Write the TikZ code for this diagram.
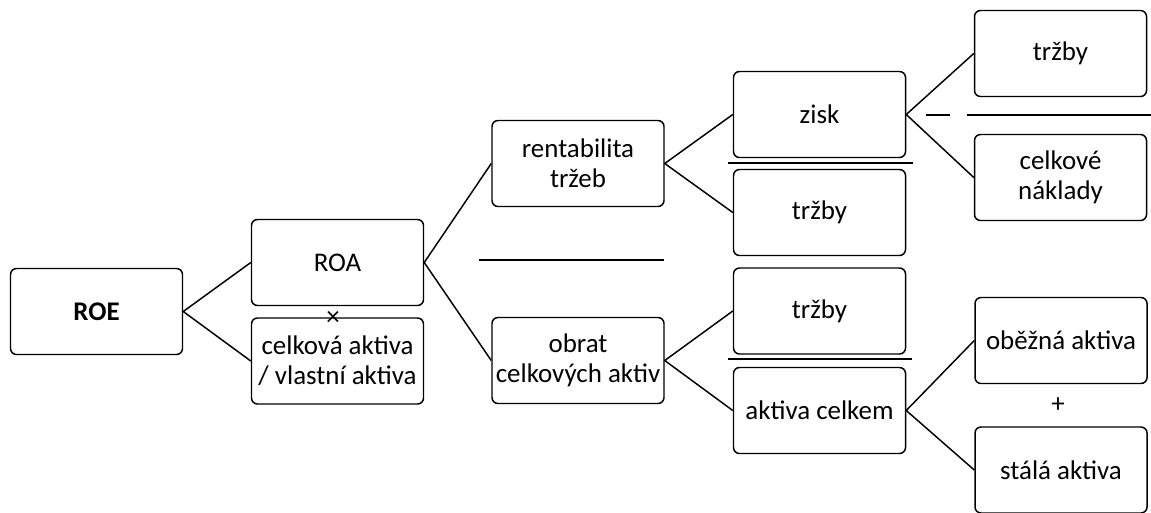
\documentclass[tikz,border=0pt]{standalone}
\usepackage{fontspec}
\setmainfont{Carlito}
\usepackage{tikz}

\tikzset{
    box/.style={draw, line width=1.1pt, rounded corners=4.5pt, align=center,
        minimum width=129pt, minimum height=64.5pt, inner sep=0pt,
        font=\fontsize{20.2}{22.5}\selectfont},
    link/.style={line width=1.1pt},
    bar/.style={line width=1.1pt}
}

\begin{document}
\begin{tikzpicture}[x=0.75pt,y=-0.75pt]
        \useasboundingbox (0,0) rectangle (1151,512);
        % Draw boxes
        \node[box] (roe) at (96.5,311.5) {\textbf{ROE}};
        \node[box] (roa) at (337.5,262.5) {ROA};
        \node[box] (celk) at (337.5,361) {celková aktiva\\/ vlastní aktiva};
        \node[box] (rent) at (578,163.5) {rentabilita\\tržeb};
        \node[box] (obrat) at (578,360.5) {obrat\\celkových aktiv};
        \node[box] (zisk) at (819.5,114.5) {zisk};
        \node[box] (trzbyA) at (819.5,212.5) {tržby};
        \node[box] (trzbyB) at (819.5,311) {tržby};
        \node[box] (aktiva) at (819.5,410.5) {aktiva celkem};
        \node[box] (trzbyC) at (1060.5,53.5) {tržby};
        \node[box] (naklady) at (1060.5,177.5) {celkové\\náklady};
        \node[box] (obezna) at (1061,340.5) {oběžná aktiva};
        \node[box] (stala) at (1061,470) {stálá aktiva};

        % Draw links
        \draw[link] (roa.west) -- (roe.east) -- (celk.west);
        \draw[link] (rent.west) -- (roa.east) -- (obrat.west);
        \draw[link] (zisk.west) -- (rent.east) -- (trzbyA.west);
        \draw[link] (trzbyB.west) -- (obrat.east) -- (aktiva.west);
        \draw[link] (trzbyC.west) -- (zisk.east) -- (naklady.west);
        \draw[link] (obezna.west) -- (aktiva.east) -- (stala.west);

        % Draw operators
        \node[font=\fontsize{20.2}{22.5}\selectfont, inner sep=0pt] (krat) at (333,318) {×};
        \node[font=\fontsize{20.2}{22.5}\selectfont, inner sep=0pt] (plus) at (1058,405) {+};
        \draw[bar] (479,260) -- (664,260); % main fraction bar
        \draw[bar] (728,163) -- (913,163);
        \draw[bar] (728,359) -- (912,359);
        \draw[bar] (926,115) -- (950,115); % minus
        \draw[bar] (967,115) -- (1151,115);
    \end{tikzpicture}
\end{document}
